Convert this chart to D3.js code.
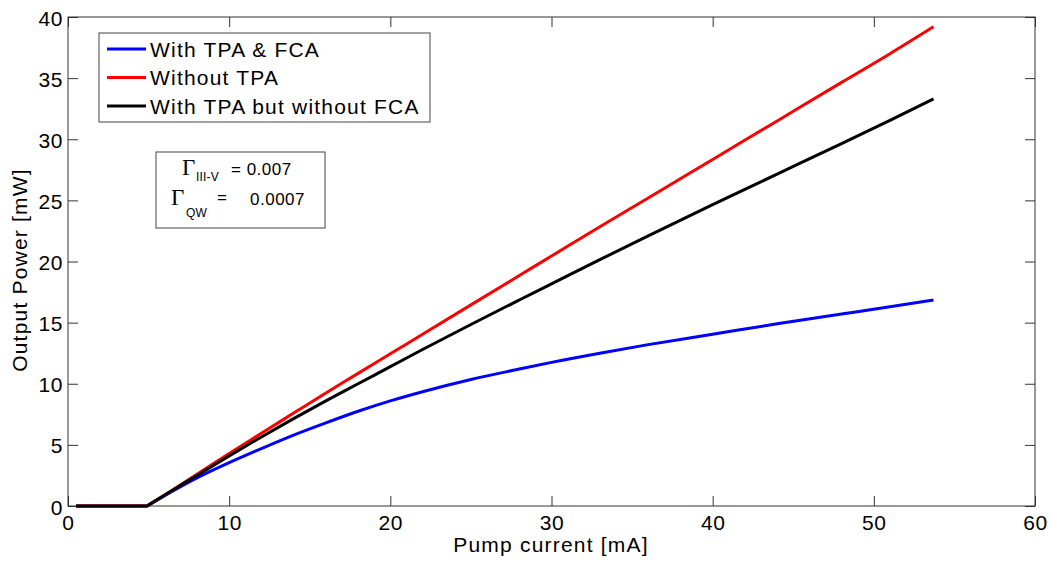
<!DOCTYPE html>
<html><head><meta charset="utf-8">
<script src="https://cdn.jsdelivr.net/npm/d3@7"></script>
<style>body{margin:0;background:#fff;}svg{display:block;font-family:"Liberation Sans",Arial,sans-serif;}</style>
</head><body>
<script>
const xValues   = [0.5, 4.9, 6, 8, 10, 12, 14, 16, 18, 20, 22, 25, 28, 30, 33, 36, 40, 44, 48, 51, 53.7];
const blueVals  = [0, 0, 0.85, 2.3, 3.55, 4.7, 5.8, 6.8, 7.75, 8.6, 9.35, 10.35, 11.2, 11.75, 12.5, 13.2, 14.05, 14.9, 15.7, 16.3, 16.85];
const redVals   = [0, 0, 0.9, 2.6, 4.3, 5.95, 7.6, 9.25, 10.85, 12.45, 14.05, 16.45, 18.85, 20.45, 22.85, 25.2, 28.35, 31.5, 34.65, 37.0, 39.2];
const blackVals = [0, 0, 0.9, 2.5, 4.1, 5.65, 7.15, 8.6, 10.0, 11.4, 12.8, 14.85, 16.85, 18.17, 20.15, 22.1, 24.65, 27.15, 29.65, 31.55, 33.3];
const seriesNames = ["With TPA & FCA", "Without TPA", "With TPA but without FCA"];
const seriesColors = ["#0000ff", "#ff0000", "#000000"];
const xTicks = [0, 10, 20, 30, 40, 50, 60];
const yTicks = [0, 5, 10, 15, 20, 25, 30, 35, 40];

const W = 1052, H = 563;
const L = 68, R = 1035, T = 17, B = 506;
const FS = 21, LS = "1.2px";
const svg = d3.select("body").append("svg").attr("width", W).attr("height", H);
const x = d3.scaleLinear().domain([0, 60]).range([L, R]);
const y = d3.scaleLinear().domain([0, 40]).range([B, T]);

const tickLen = 10;
const gx = svg.append("g").attr("transform", `translate(0,${B})`)
  .call(d3.axisBottom(x).tickValues(xTicks).tickSize(-tickLen).tickPadding(0).tickFormat(d3.format("d")));
const gy = svg.append("g").attr("transform", `translate(${L},0)`)
  .call(d3.axisLeft(y).tickValues(yTicks).tickSize(-tickLen).tickPadding(5).tickFormat(d3.format("d")));
const gt = svg.append("g").attr("transform", `translate(0,${T})`)
  .call(d3.axisTop(x).tickValues(xTicks).tickSize(-tickLen).tickFormat(""));
const gr = svg.append("g").attr("transform", `translate(${R},0)`)
  .call(d3.axisRight(y).tickValues(yTicks).tickSize(-tickLen).tickFormat(""));
[gx, gy, gt, gr].forEach(g => {
  g.select(".domain").remove();
  g.selectAll("line").attr("stroke", "#333").attr("stroke-width", 1);
  g.selectAll("text").attr("fill", "#000").attr("font-size", FS).attr("letter-spacing", "0.6px")
    .attr("font-family", "Liberation Sans, Arial, sans-serif");
});
gx.selectAll("text").attr("y", 24).attr("dy", null);
gy.selectAll("text").attr("dy", null).attr("y", 8);

svg.append("rect").attr("x", L).attr("y", T).attr("width", R - L).attr("height", B - T)
  .attr("fill", "none").attr("stroke", "#333").attr("stroke-width", 1);

// lines: flat segment below threshold, smooth curve above
const curve = d3.line().x(d => x(d[0])).y(d => y(d[1])).curve(d3.curveMonotoneX);
[blueVals, redVals, blackVals].forEach((vals, i) => {
  const pts = vals.map((v, j) => [xValues[j], v]);
  const d = `M${x(pts[0][0])},${y(pts[0][1])}L` + curve(pts.slice(1)).slice(1);
  svg.append("path").attr("d", d).attr("fill", "none")
    .attr("stroke", seriesColors[i]).attr("stroke-width", 3).attr("stroke-linejoin", "round");
});

// axis labels
svg.append("text").attr("x", 551).attr("y", 552).attr("text-anchor", "middle")
  .attr("font-size", FS).attr("letter-spacing", LS).text("Pump current [mA]");
svg.append("text").attr("transform", `translate(27,270) rotate(-90)`).attr("text-anchor", "middle")
  .attr("font-size", FS).attr("letter-spacing", LS).text("Output Power [mW]");

// legend
const lg = svg.append("g");
lg.append("rect").attr("x", 99).attr("y", 33).attr("width", 331).attr("height", 89)
  .attr("fill", "#fff").attr("stroke", "#444").attr("stroke-width", 1);
seriesNames.forEach((n, i) => {
  const yy = 49 + i * 28.5;
  lg.append("line").attr("x1", 107).attr("x2", 146).attr("y1", yy).attr("y2", yy)
    .attr("stroke", seriesColors[i]).attr("stroke-width", 3);
  lg.append("text").attr("x", 150).attr("y", yy + 7.5).attr("font-size", FS).attr("letter-spacing", LS).text(n);
});

// annotation box
const ab = svg.append("g");
ab.append("rect").attr("x", 156).attr("y", 152).attr("width", 169).attr("height", 76)
  .attr("fill", "#fff").attr("stroke", "#444").attr("stroke-width", 1);
const serif = "Liberation Serif, Times New Roman, serif";
ab.append("text").attr("x", 182).attr("y", 175).attr("font-family", serif).attr("font-size", 23).text("Γ");
ab.append("text").attr("x", 196).attr("y", 181).attr("font-size", 12).attr("letter-spacing", "0.2px").text("III-V");
ab.append("text").attr("x", 231).attr("y", 175).attr("font-size", 17).attr("letter-spacing", "0.5px").text("= 0.007");
ab.append("text").attr("x", 171).attr("y", 205).attr("font-family", serif).attr("font-size", 23).text("Γ");
ab.append("text").attr("x", 186).attr("y", 217).attr("font-size", 12).attr("letter-spacing", "0.2px").text("QW");
ab.append("text").attr("x", 217).attr("y", 203).attr("font-size", 17).text("=");
ab.append("text").attr("x", 250).attr("y", 205).attr("font-size", 17).attr("letter-spacing", "0.5px").text("0.0007");
</script>
</body></html>
